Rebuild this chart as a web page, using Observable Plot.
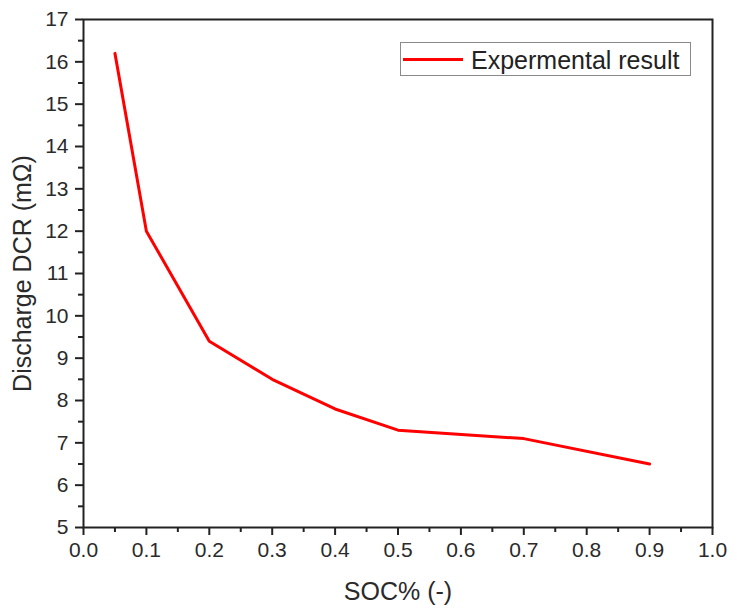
<!DOCTYPE html>
<html>
<head>
<meta charset="utf-8">
<script src="https://cdn.jsdelivr.net/npm/d3@7"></script>
<script src="https://cdn.jsdelivr.net/npm/@observablehq/plot@0.6"></script>
<style>
  html, body { margin: 0; padding: 0; background: #fff; }
  #wrap { position: relative; width: 737px; height: 609px; font-family: "Liberation Sans", Arial, sans-serif; }
  #legend { position: absolute; left: 400px; top: 42px; width: 291px; height: 34px; border: 1px solid #8a8a8a; background: #fff; box-sizing: border-box; }
  #legend .sw { position: absolute; left: 2px; top: 15px; width: 60px; height: 3px; background: #ff0000; }
  #legend .lbl { position: absolute; left: 70px; top: 0; line-height: 34px; font-size: 25px; color: #222; white-space: nowrap; }
</style>
</head>
<body>
<div id="wrap"></div>
<script>
// Data
const soc = [0.05, 0.1, 0.2, 0.3, 0.4, 0.5, 0.7, 0.9];
const dcr = [16.2, 12.0, 9.4, 8.5, 7.8, 7.3, 7.1, 6.5];
const xTicks = [0, 0.1, 0.2, 0.3, 0.4, 0.5, 0.6, 0.7, 0.8, 0.9, 1.0];
const xMinor = [0.05, 0.15, 0.25, 0.35, 0.45, 0.55, 0.65, 0.75, 0.85, 0.95];
const yTicks = [5, 6, 7, 8, 9, 10, 11, 12, 13, 14, 15, 16, 17];
const yMinor = [5.5, 6.5, 7.5, 8.5, 9.5, 10.5, 11.5, 12.5, 13.5, 14.5, 15.5, 16.5];
const xTitle = "SOC% (-)";
const yTitle = "Discharge DCR (mΩ)";
const seriesName = "Expermental result";

const data = soc.map((s, i) => ({soc: s, dcr: dcr[i]}));
const axisColor = "#222";
const textColor = "#2a2a2a";

const chart = Plot.plot({
  width: 737,
  height: 609,
  marginLeft: 83,
  marginRight: 25,
  marginTop: 19,
  marginBottom: 82,
  style: {fontFamily: "'Liberation Sans', Arial, sans-serif", background: "#fff", color: textColor},
  x: {domain: [0, 1]},
  y: {domain: [5, 17]},
  marks: [
    Plot.axisX({ticks: xTicks, tickSize: 8, tickPadding: 7, tickFormat: d => d.toFixed(1), fontSize: 21, stroke: axisColor, strokeWidth: 2, strokeOpacity: 1, fill: textColor, label: null}),
    Plot.axisX({ticks: xMinor, tickSize: 5, tickFormat: () => "", stroke: axisColor, strokeWidth: 2, strokeOpacity: 1, label: null}),
    Plot.axisY({ticks: yTicks, tickSize: 8, tickPadding: 7, fontSize: 21, stroke: axisColor, strokeWidth: 2, strokeOpacity: 1, fill: textColor, label: null}),
    Plot.axisY({ticks: yMinor, tickSize: 5, tickFormat: () => "", stroke: axisColor, strokeWidth: 2, strokeOpacity: 1, label: null}),
    Plot.frame({stroke: axisColor, strokeWidth: 2}),
    Plot.line(data, {x: "soc", y: "dcr", stroke: "#ff0000", strokeWidth: 3, strokeLinejoin: "round"}),
    Plot.text([xTitle], {frameAnchor: "bottom", dy: 64, textAnchor: "middle", lineAnchor: "middle", fontSize: 25, fill: textColor}),
    Plot.text([yTitle], {frameAnchor: "left", dx: -61, rotate: -90, textAnchor: "middle", lineAnchor: "middle", fontSize: 25, fill: textColor})
  ]
});

const wrap = document.getElementById("wrap");
wrap.appendChild(chart);
const leg = document.createElement("div");
leg.id = "legend";
leg.innerHTML = '<div class="sw"></div><div class="lbl"></div>';
leg.querySelector(".lbl").textContent = seriesName;
wrap.appendChild(leg);
</script>
</body>
</html>
